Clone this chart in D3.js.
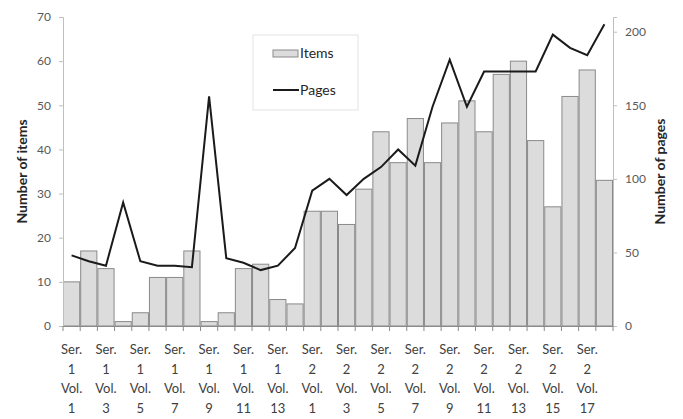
<!DOCTYPE html>
<html>
<head>
<meta charset="utf-8">
<script src="https://cdn.jsdelivr.net/npm/d3@7"></script>
<style>
  html, body { margin: 0; padding: 0; background: #fff; }
  svg { display: block; }
  text { font-family: Lato, "Open Sans", sans-serif; }
</style>
</head>
<body>
<svg id="chart" width="683" height="419"></svg>
<script>
// Issues: Series 1 volumes 1–14, Series 2 volumes 1–18
const series = [
  1,1,1,1,1,1,1,1,1,1,1,1,1,1,
  2,2,2,2,2,2,2,2,2,2,2,2,2,2,2,2,2,2
];
const volumes = [
  1,2,3,4,5,6,7,8,9,10,11,12,13,14,
  1,2,3,4,5,6,7,8,9,10,11,12,13,14,15,16,17,18
];
// Number of items per issue (left axis)
const items = [
  10,17,13,1,3,11,11,17,1,3,13,14,6,5,
  26,26,23,31,44,37,47,37,46,51,44,57,60,42,27,52,58,33
];
// Number of pages per issue (right axis)
const pages = [
  48,44,41,84,44,41,41,40,156,46,43,38,41,53,
  92,100,89,100,108,120,109,149,181,149,173,173,173,173,198,189,184,205
];
const itemTicks = [0,10,20,30,40,50,60,70];
const pageTicks = [0,50,100,150,200];

const categories = series.map((s, i) => `S${s}V${volumes[i]}`);

const svg = d3.select("#chart");
const mLeft = 63, mRight = 613, mTop = 17, mBottom = 326;

const x = d3.scaleBand().domain(categories).range([mLeft, mRight]).paddingInner(0).paddingOuter(0);
const yItems = d3.scaleLinear().domain([0, 70]).range([mBottom, mTop]);
const yPages = d3.scaleLinear().domain([0, 210]).range([mBottom, mTop]);

const tickColor = "#595959";

// Bars
svg.append("g")
  .selectAll("rect")
  .data(items)
  .join("rect")
  .attr("x", (d, i) => x(categories[i]) + 0.5)
  .attr("y", d => yItems(d))
  .attr("width", x.bandwidth() - 1)
  .attr("height", d => yItems(0) - yItems(d))
  .attr("fill", "#dcdcdc")
  .attr("stroke", "#8a8a8a")
  .attr("stroke-width", 1);

// Left axis
const gL = svg.append("g").attr("transform", `translate(${mLeft},0)`)
  .call(d3.axisLeft(yItems).tickValues(itemTicks).tickSize(4).tickPadding(8));
gL.select(".domain").attr("stroke", "#bfbfbf");
gL.selectAll(".tick line").attr("stroke", "#bfbfbf");
gL.selectAll(".tick text").attr("fill", tickColor).style("font-size", "12px");

// Right axis
const gR = svg.append("g").attr("transform", `translate(${mRight},0)`)
  .call(d3.axisRight(yPages).tickValues(pageTicks).tickSize(4).tickPadding(8));
gR.select(".domain").attr("stroke", "#bfbfbf");
gR.selectAll(".tick line").attr("stroke", "#bfbfbf");
gR.selectAll(".tick text").attr("fill", tickColor).style("font-size", "12px");

// Category axis: baseline with ticks between categories
const gX = svg.append("g");
gX.append("line")
  .attr("x1", mLeft).attr("x2", mRight)
  .attr("y1", mBottom + 0.5).attr("y2", mBottom + 0.5)
  .attr("stroke", "#8a8a8a");
gX.selectAll("line.sep")
  .data(categories.concat(["end"]))
  .join("line")
  .attr("class", "sep")
  .attr("x1", (d, i) => mLeft + i * x.bandwidth())
  .attr("x2", (d, i) => mLeft + i * x.bandwidth())
  .attr("y1", mBottom).attr("y2", mBottom + 5)
  .attr("stroke", "#8a8a8a");

// Category labels on every other issue, wrapped over four lines
const labelIdx = categories.map((c, i) => i).filter(i => i % 2 === 0);
const lbl = gX.selectAll("text.cat")
  .data(labelIdx)
  .join("text")
  .attr("class", "cat")
  .attr("text-anchor", "middle")
  .attr("fill", "#404040")
  .style("font-size", "13px");
const lines = i => ["Ser.", String(series[i]), "Vol.", String(volumes[i])];
lbl.each(function(i) {
  const t = d3.select(this);
  lines(i).forEach((s, k) => {
    t.append("tspan")
      .attr("x", x(categories[i]) + x.bandwidth() / 2)
      .attr("y", 354 + k * 19.7)
      .text(s);
  });
});

// Pages line
const line = d3.line()
  .x((d, i) => x(categories[i]) + x.bandwidth() / 2)
  .y(d => yPages(d));
svg.append("path")
  .datum(pages)
  .attr("d", line)
  .attr("fill", "none")
  .attr("stroke", "#1a1a1a")
  .attr("stroke-width", 2)
  .attr("stroke-linejoin", "miter");

// Axis titles
svg.append("text")
  .attr("transform", `translate(27,${(mTop + mBottom) / 2}) rotate(-90)`)
  .attr("text-anchor", "middle")
  .attr("fill", "#262626")
  .style("font-size", "14px").style("font-weight", "bold")
  .text("Number of items");
svg.append("text")
  .attr("transform", `translate(665,${(mTop + mBottom) / 2}) rotate(-90)`)
  .attr("text-anchor", "middle")
  .attr("fill", "#262626")
  .style("font-size", "14px").style("font-weight", "bold")
  .text("Number of pages");

// Legend
const lg = svg.append("g");
lg.append("rect")
  .attr("x", 253).attr("y", 35).attr("width", 105).attr("height", 75)
  .attr("fill", "#fff").attr("stroke", "#e3e3e3");
lg.append("rect")
  .attr("x", 273).attr("y", 50).attr("width", 25).attr("height", 7)
  .attr("fill", "#dcdcdc").attr("stroke", "#8a8a8a");
lg.append("text")
  .attr("x", 300).attr("y", 58)
  .attr("fill", "#262626").style("font-size", "14px")
  .text("Items");
lg.append("line")
  .attr("x1", 273).attr("x2", 299).attr("y1", 90).attr("y2", 90)
  .attr("stroke", "#1a1a1a").attr("stroke-width", 2);
lg.append("text")
  .attr("x", 300).attr("y", 95)
  .attr("fill", "#262626").style("font-size", "14px")
  .text("Pages");
</script>
</body>
</html>
